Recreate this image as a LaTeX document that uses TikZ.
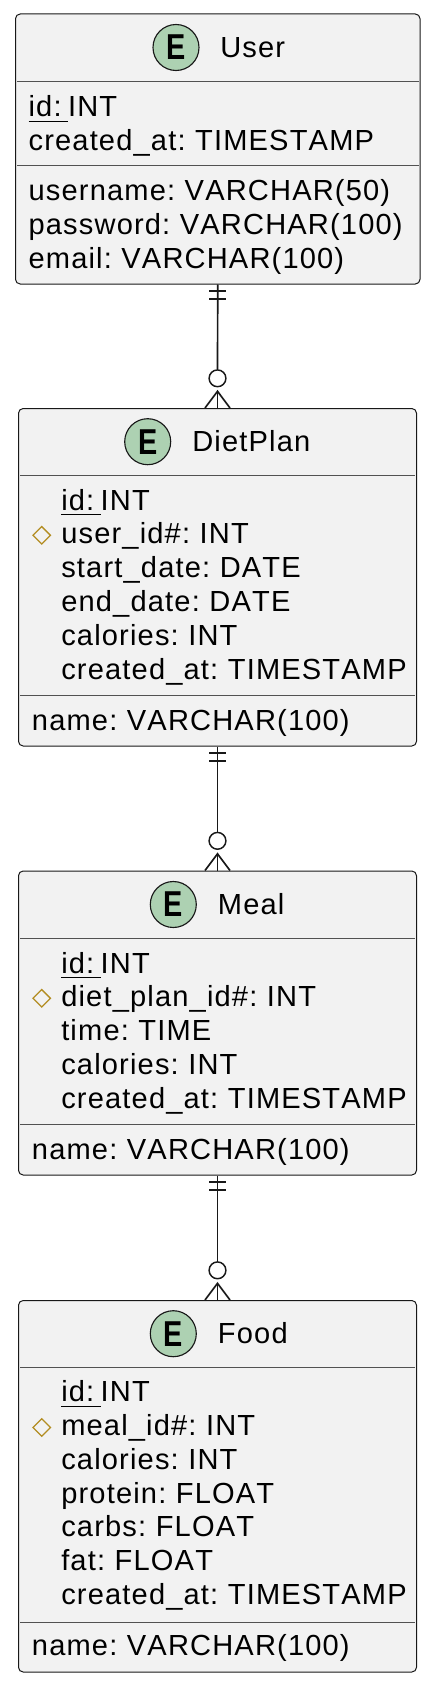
\documentclass[tikz,border=0pt]{standalone}
\usepackage{fontspec}
\usepackage{graphicx}
\setmainfont{Liberation Sans}[LetterSpace=4, WordSpace=0.7, Kerning=Off]
\newfontfamily\badgefont{Liberation Sans}
\usetikzlibrary{calc,fit,shapes.geometric}
\definecolor{boxfill}{HTML}{F2F2F2}
\definecolor{boxline}{HTML}{181818}
\definecolor{badgefill}{HTML}{ADD1B2}
\definecolor{fkline}{HTML}{B38D22}
\newcommand{\keyname}[1]{\setbox0\hbox{#1\ }\rlap{\rule[-3.9pt]{\wd0}{0.7pt}}\box0}
\tikzset{
  entity/.style={rectangle, draw=boxline, fill=boxfill, line width=0.75pt, rounded corners=3.5pt, inner sep=0pt},
  rowrule/.style={draw=boxline!75, line width=0.6pt},
  badge/.style={circle, draw=boxline, fill=badgefill, line width=0.85pt, minimum size=34.5pt, inner sep=0pt,
    font=\badgefont\bfseries\fontsize{27}{27}\selectfont},
  title/.style={anchor=base west, inner sep=0pt, font=\fontsize{21.8}{26}\selectfont},
  field/.style={anchor=base west, inner sep=0pt, text=black, font=\fontsize{21.8}{26}\selectfont},
  fkmark/.style={diamond, draw=fkline, line width=0.95pt, minimum size=13.5pt, inner sep=0pt},
  ring/.style={circle, draw=boxline, fill=white, line width=1.1pt, minimum size=12.6pt, inner sep=0pt},
  link/.style={draw=boxline, line width=1.25pt},
}

\begin{document}
\begin{tikzpicture}[x=0.75pt, y=-0.75pt]
  \useasboundingbox (0,0) rectangle (434,1687);

  % Entities
  \node[entity, fit={(15.5,14) (420,284)}] (user) {};
  \node[entity, fit={(18.5,408.5) (416.5,746)}] (dietplan) {};
  \node[entity, fit={(18.5,871) (416.5,1175)}] (meal) {};
  \node[entity, fit={(18.5,1300.5) (416.5,1672)}] (food) {};

  % Separators
  \foreach \ent/\y in {user/81, user/165, dietplan/475, dietplan/695, meal/938, meal/1124, food/1367, food/1622}
    \draw[rowrule, shorten <=1.5pt, shorten >=1.5pt] (\ent.west |- 0,\y) -- (\ent.east |- 0,\y);

  % Headers
  \node[badge] (user badge) at (176,47.5) {\scalebox{0.8}[1]{E}};
  \node[title] (user title) at (220,58) {User};
  \node[badge] (dietplan badge) at (147.7,441.7) {\scalebox{0.8}[1]{E}};
  \node[title] (dietplan title) at (192,451.7) {DietPlan};
  \node[badge] (meal badge) at (173.3,904.5) {\scalebox{0.8}[1]{E}};
  \node[title] (meal title) at (217.7,914.5) {Meal};
  \node[badge] (food badge) at (173.3,1333.7) {\scalebox{0.8}[1]{E}};
  \node[title] (food title) at (217.7,1343.7) {Food};

  % User fields
  \node[field] (user id) at (28.3,116.7) {\keyname{id:}INT};
  \node[field] (user created) at (28.3,150.5) {created\_at: TIMESTAMP};
  \foreach \txt [count=\i from 0] in {username: VARCHAR(50), password: VARCHAR(100), email: VARCHAR(100)}
    \node[field] (user row\i) at (28.3,{201+33.8*\i}) {\txt};

  % DietPlan fields
  \foreach \txt [count=\i from 0] in {\keyname{id:}INT, user\_id\#: INT, start\_date: DATE, end\_date: DATE, calories: INT, created\_at: TIMESTAMP}
    \node[field] (dietplan row\i) at (61,{510+33.8*\i}) {\txt};
  \node[fkmark] (dietplan fk) at (41.7,535.3) {};
  \node[field] (dietplan name) at (31.7,730) {name: VARCHAR(100)};

  % Meal fields
  \foreach \txt [count=\i from 0] in {\keyname{id:}INT, diet\_plan\_id\#: INT, time: TIME, calories: INT, created\_at: TIMESTAMP}
    \node[field] (meal row\i) at (61,{973+33.8*\i}) {\txt};
  \node[fkmark] (meal fk) at (41.7,998.3) {};
  \node[field] (meal name) at (31.7,1159) {name: VARCHAR(100)};

  % Food fields
  \foreach \txt [count=\i from 0] in {\keyname{id:}INT, meal\_id\#: INT, calories: INT, protein: FLOAT, carbs: FLOAT, fat: FLOAT, created\_at: TIMESTAMP}
    \node[field] (food row\i) at (61,{1401.7+33.8*\i}) {\txt};
  \node[fkmark] (food fk) at (41.7,1427.5) {};
  \node[field] (food name) at (31.7,1655.7) {name: VARCHAR(100)};

  % Relations
  \foreach \src/\dst in {user/dietplan, dietplan/meal, meal/food} {
    \node[ring] (\dst ring) at ($(\dst.north)+(0,-29.7)$) {};
    \coordinate (\dst apex) at ($(\dst.north)+(0,-16.7)$);
    \draw[link] (\src.south) -- (\dst ring.north);
    \draw[link] (\dst apex) -- (\dst.north);
    \draw[link] ($(\dst.north)+(-12.5,0)$) -- (\dst apex) -- ($(\dst.north)+(12.5,0)$);
    \draw[link] ($(\src.south)+(-8.5,6.7)$) -- ($(\src.south)+(8.5,6.7)$);
    \draw[link] ($(\src.south)+(-8.5,14.7)$) -- ($(\src.south)+(8.5,14.7)$);
  }
\end{tikzpicture}
\end{document}
